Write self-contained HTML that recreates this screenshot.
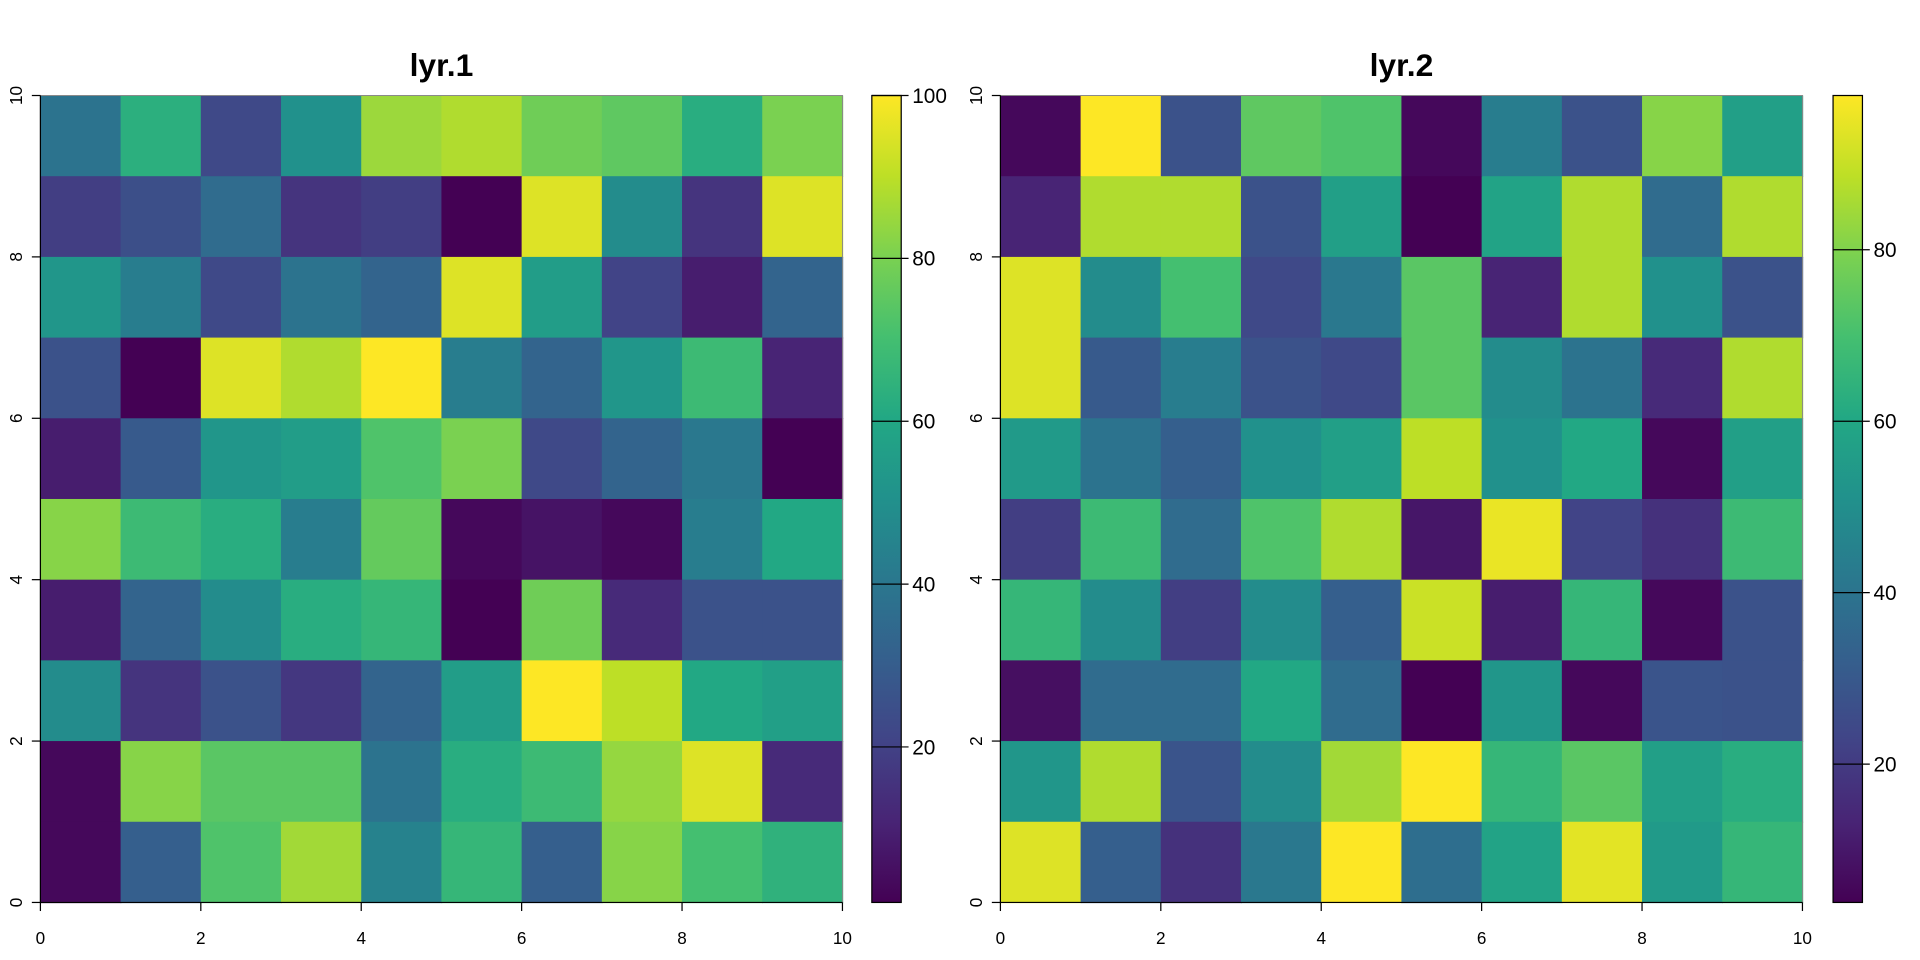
<!DOCTYPE html>
<html><head><meta charset="utf-8"><style>
html,body{margin:0;padding:0;background:#fff;}
svg{display:block;}
text{font-family:"Liberation Sans",Arial,sans-serif;fill:#000;}
</style></head><body>
<svg id="s" width="1920" height="960" viewBox="0 0 1568 784" xmlns="http://www.w3.org/2000/svg">
<defs><linearGradient id="vg" x1="0" y1="1" x2="0" y2="0">
<stop offset="0" stop-color="#440154"/><stop offset="0.1" stop-color="#482475"/><stop offset="0.2" stop-color="#414487"/><stop offset="0.3" stop-color="#355f8d"/><stop offset="0.4" stop-color="#2a788e"/><stop offset="0.5" stop-color="#21918c"/><stop offset="0.6" stop-color="#22a884"/><stop offset="0.7" stop-color="#44bf70"/><stop offset="0.8" stop-color="#7ad151"/><stop offset="0.9" stop-color="#bddf26"/><stop offset="1" stop-color="#fde725"/>
</linearGradient></defs>
<g id="g"></g>
</svg>
<script>
var stops=["#440154","#482475","#414487","#355f8d","#2a788e","#21918c","#22a884","#44bf70","#7ad151","#bddf26","#fde725"];
function h(c){return [parseInt(c.substr(1,2),16),parseInt(c.substr(3,2),16),parseInt(c.substr(5,2),16)];}
function vir(t){t=Math.max(0,Math.min(1,t));var p=t*10,i=Math.min(9,Math.floor(p)),f=p-i,a=h(stops[i]),b=h(stops[i+1]);
return "rgb("+a.map(function(v,k){return Math.round(v+(b[k]-v)*f)}).join(",")+")";}
var A=[[.38,.63,.22,.50,.85,.88,.78,.75,.62,.80],[.18,.24,.35,.15,.18,0,.95,.48,.15,.95],[.52,.42,.22,.38,.32,.95,.55,.20,.08,.32],[.25,0,.95,.88,1,.42,.32,.52,.68,.10],[.08,.28,.52,.55,.72,.80,.22,.32,.40,0],[.82,.68,.62,.42,.76,.02,.05,.02,.42,.60],[.08,.32,.48,.62,.66,0,.78,.12,.25,.25],[.48,.15,.25,.16,.32,.55,1,.90,.60,.56],[.02,.82,.74,.74,.38,.62,.68,.84,.95,.12],[.02,.30,.72,.86,.44,.66,.30,.82,.70,.64]];
var B=[[.02,1,.25,.75,.72,.02,.42,.25,.82,.56],[.10,.88,.88,.25,.56,0,.58,.88,.35,.88],[.95,.48,.70,.22,.40,.74,.10,.88,.50,.25],[.95,.28,.42,.25,.22,.74,.48,.38,.12,.88],[.54,.38,.30,.50,.56,.90,.50,.60,.02,.56],[.18,.68,.35,.72,.88,.06,.97,.20,.14,.68],[.66,.48,.18,.48,.30,.92,.08,.66,.02,.25],[.04,.35,.35,.60,.35,0,.52,.02,.26,.25],[.52,.88,.26,.48,.86,1,.66,.74,.56,.62],[.95,.30,.14,.40,1,.36,.58,.96,.54,.66]];
var s="";
function panel(x0,M,title,lx,lt){
 var y0=78,w=655,hh=659,cw=w/10,ch=hh/10;
 for(var r=0;r<10;r++)for(var c=0;c<10;c++)
  s+='<rect x="'+(x0+c*cw).toFixed(2)+'" y="'+(y0+r*ch).toFixed(2)+'" width="'+(cw+0.6).toFixed(2)+'" height="'+(ch+0.6).toFixed(2)+'" fill="'+vir(M[r][c])+'"/>';
 s+='<rect x="'+x0+'" y="'+y0+'" width="'+w+'" height="'+hh+'" fill="none" stroke="#888" stroke-width="0.8"/>';
 s+='<text x="'+(x0+w/2)+'" y="62" font-size="26" font-weight="bold" text-anchor="middle">'+title+'</text>';
 s+='<line x1="'+x0+'" y1="737" x2="'+(x0+w)+'" y2="737" stroke="#000"/>';
 s+='<line x1="'+x0+'" y1="78" x2="'+x0+'" y2="737" stroke="#000"/>';
 for(var i=0;i<=5;i++){var x=x0+i*w/5;
  s+='<line x1="'+x+'" y1="737" x2="'+x+'" y2="744" stroke="#000"/>';
  s+='<text x="'+x+'" y="771" font-size="14" text-anchor="middle">'+(i*2)+'</text>';
  var y=737-i*hh/5;
  s+='<line x1="'+x0+'" y1="'+y+'" x2="'+(x0-7)+'" y2="'+y+'" stroke="#000"/>';
  s+='<text transform="translate('+(x0-15)+','+y+') rotate(-90)" x="0" y="0" font-size="14" text-anchor="middle">'+(i*2)+'</text>';
 }
 s+='<rect x="'+lx+'" y="78" width="24" height="659" fill="url(#vg)" stroke="#000" stroke-width="1"/>';
 lt.forEach(function(t){s+='<line x1="'+lx+'" y1="'+t[1]+'" x2="'+(lx+30)+'" y2="'+t[1]+'" stroke="#000"/>';
  s+='<text x="'+(lx+33)+'" y="'+(t[1]+6)+'" font-size="17">'+t[0]+'</text>';});
}
panel(33,A,"lyr.1",712,[[100,78],[80,211],[60,344],[40,477],[20,610]]);
panel(817,B,"lyr.2",1497,[[80,204],[60,344],[40,484],[20,624]]);
document.getElementById("g").innerHTML=s;
</script>
</body></html>
